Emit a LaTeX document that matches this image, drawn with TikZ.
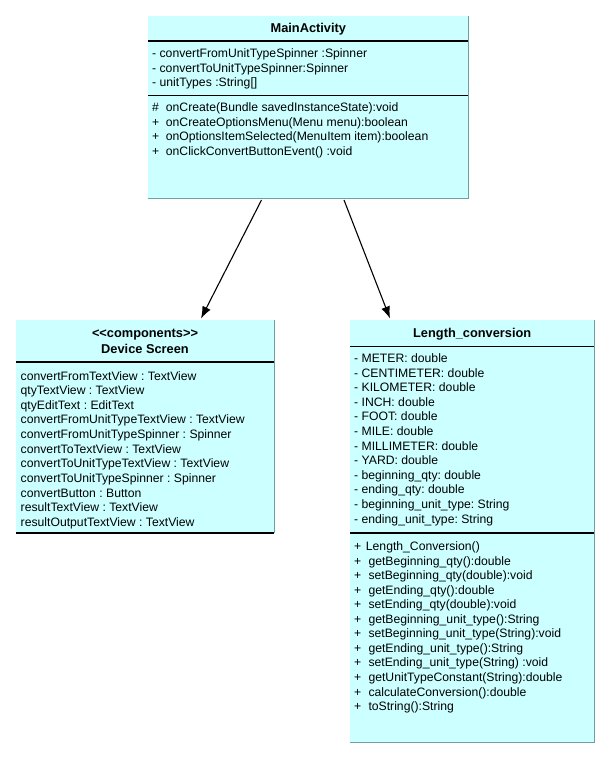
\documentclass[tikz,border=0pt]{standalone}
\usepackage{fontspec}
\setmainfont{Liberation Sans}
\usetikzlibrary{arrows.meta}
\definecolor{umlfill}{RGB}{204,255,255}
\definecolor{umledge}{RGB}{112,160,160}
\frenchspacing
\tikzset{
  classbox/.style={draw=none, fill=umlfill, inner sep=0pt, outer sep=0pt, anchor=north west},
  member/.style={anchor=base west, inner sep=0pt, font=\fontsize{12.2}{14.6}\selectfont},
  classname/.style={anchor=base, inner sep=0pt, font=\fontsize{12.8}{15}\selectfont\bfseries},
  divider/.style={line width=1.2pt, black},
  shadeedge/.style={line width=1pt, umledge},
  dependency/.style={-{Latex[length=12pt,width=9pt]}, line width=1.1pt}
}
\newcommand{\vis}[2]{\makebox[#1][l]{#2}}
\begin{document}
\begin{tikzpicture}[x=1pt,y=-1pt]
\useasboundingbox (0,0) rectangle (611,759);

% ---------- MainActivity ----------
\node[classbox, minimum width=320pt, minimum height=183pt] (main) at (148,16) {};
\draw[shadeedge] (main.north east) -- (main.south east) -- (main.south west);
\draw[divider] ([yshift=-25pt]main.north west) -- ([yshift=-25pt]main.north east);
\draw[divider] ([yshift=-79.5pt]main.north west) -- ([yshift=-79.5pt]main.north east);
\node[classname] (mainT) at (308.3,32.5) {MainActivity};
\foreach [count=\i] \t in {%
  - convertFromUnitTypeSpinner :Spinner,
  - convertToUnitTypeSpinner:Spinner,
  - unitTypes :String[]}
  \node[member] (maA\i) at (152,{57.5+14.7*(\i-1)}) {\t};
\foreach [count=\i] \s/\t in {%
  \#/onCreate(Bundle savedInstanceState):void,
  +/onCreateOptionsMenu(Menu menu):boolean,
  +/onOptionsItemSelected(MenuItem item):boolean,
  +/onClickConvertButtonEvent() :void}
  \node[member] (maM\i) at (152,{111.5+14.6*(\i-1)}) {\vis{13.7pt}{\s}\t};

% ---------- Device Screen ----------
\node[classbox, minimum width=258pt, minimum height=213pt] (dev) at (16,320) {};
\draw[shadeedge] (dev.north east) -- (dev.south east);
\draw[divider] (dev.south west) -- (dev.south east);
\draw[divider] ([yshift=-42pt]dev.north west) -- ([yshift=-42pt]dev.north east);
\node[classname] (devS) at (145,337.5)
  {\textless\kern0pt\textless components\textgreater\kern0pt\textgreater};
\node[classname] (devT) at (145,353.3) {Device Screen};
\foreach [count=\i] \t in {%
  convertFromTextView : TextView,
  qtyTextView : TextView,
  qtyEditText : EditText,
  convertFromUnitTypeTextView : TextView,
  convertFromUnitTypeSpinner : Spinner,
  convertToTextView : TextView,
  convertToUnitTypeTextView : TextView,
  convertToUnitTypeSpinner : Spinner,
  convertButton : Button,
  resultTextView : TextView,
  resultOutputTextView : TextView}
  \node[member] (dsA\i) at (20.5,{380+14.65*(\i-1)}) {\t};

% ---------- Length_conversion ----------
\node[classbox, minimum width=244pt, minimum height=422pt] (len) at (350,320) {};
\draw[shadeedge] (len.north east) -- (len.south east) -- (len.south west);
\draw[divider] ([yshift=-26.7pt]len.north west) -- ([yshift=-26.7pt]len.north east);
\draw[divider] ([yshift=-213pt]len.north west) -- ([yshift=-213pt]len.north east);
\node[classname] (lenT) at (472.2,337.5) {Length\_conversion};
\foreach [count=\i] \t in {%
  - METER: double,
  - CENTIMETER: double,
  - KILOMETER: double,
  - INCH: double,
  - FOOT: double,
  - MILE: double,
  - MILLIMETER: double,
  - YARD: double,
  - beginning\_qty: double,
  - ending\_qty: double,
  - beginning\_unit\_type: String,
  - ending\_unit\_type: String}
  \node[member] (lcA\i) at (354,{362.5+14.6*(\i-1)}) {\t};
\node[member] (lcM1) at (354,550.7) {\vis{11.7pt}{+}Length\_Conversion()};
\foreach [count=\i from 2] \t in {%
  getBeginning\_qty():double,
  setBeginning\_qty(double):void,
  getEnding\_qty():double,
  setEnding\_qty(double):void,
  getBeginning\_unit\_type():String,
  setBeginning\_unit\_type(String):void,
  getEnding\_unit\_type():String,
  setEnding\_unit\_type(String) :void,
  getUnitTypeConstant(String):double,
  calculateConversion():double,
  toString():String}
  \node[member] (lcM\i) at (354,{550.7+14.53*(\i-1)}) {\vis{14.3pt}{+}\t};

% ---------- dependencies ----------
\draw[dependency] ([xshift=-46.5pt,yshift=-1pt]main.south) -- ([xshift=56pt,yshift=1.5pt]dev.north);
\draw[dependency] ([xshift=36pt,yshift=-1pt]main.south) -- ([xshift=-82pt,yshift=1.5pt]len.north);
\end{tikzpicture}
\end{document}
